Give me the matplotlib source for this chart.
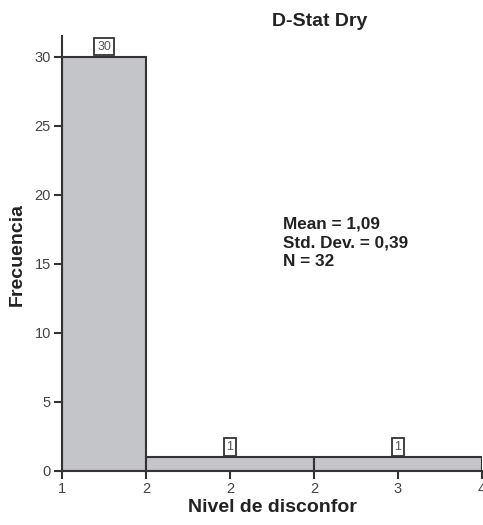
import matplotlib
matplotlib.use("Agg")
import matplotlib.pyplot as plt

plt.rcParams['font.family'] = ['Liberation Sans', 'DejaVu Sans']

# histogram data (bin edges in tick-position units, counts per bin)
bin_left = [0, 1, 3]
bin_width = [1, 2, 2]
counts = [30, 1, 1]
tick_pos = [0, 1, 2, 3, 4, 5]
tick_labels = ['1', '2', '2', '2', '3', '4']
y_ticks = [0, 5, 10, 15, 20, 25, 30]
stats_lines = ['Mean = 1,09', 'Std. Dev. = 0,39', 'N = 32']

fig = plt.figure(figsize=(4.83, 5.25), dpi=100)
ax = fig.add_axes([62 / 483, 54 / 525, 420 / 483, 435 / 525])

edge = '#333333'
ax.bar(bin_left, counts, width=bin_width, align='edge',
       color='#c4c5c9', edgecolor=edge, linewidth=1.5, zorder=2)

# count labels in little boxes above each bar
for l, w, c in zip(bin_left, bin_width, counts):
    ax.annotate(str(c), (l + w / 2, c), xytext=(0, 3), textcoords='offset points',
                ha='center', va='bottom', fontsize=9, color='#555555',
                bbox=dict(boxstyle='square,pad=0.22', fc='white', ec=edge, lw=1.3))

ax.set_xlim(0, 5)
ax.set_ylim(0, 31.5)
ax.set_xticks(tick_pos)
ax.set_xticklabels(tick_labels)
ax.set_yticks(y_ticks)

for s in ['top', 'right']:
    ax.spines[s].set_visible(False)
for s in ['left', 'bottom']:
    ax.spines[s].set_color(edge)
    ax.spines[s].set_linewidth(1.5)
ax.tick_params(axis='both', direction='out', length=6, width=1.5, color=edge,
               labelsize=10.5, labelcolor='#444444', pad=2)

fig.text(320 / 483, 1 - 21 / 525, 'D-Stat Dry', ha='center', va='center',
         fontsize=14, fontweight='bold', color='#222222')
fig.text(17 / 483, 1 - 255 / 525, 'Frecuencia', ha='center', va='center',
         rotation=90, fontsize=14, fontweight='bold', color='#222222')
fig.text(272 / 483, 1 - 507 / 525, 'Nivel de disconfor', ha='center', va='center',
         fontsize=14, fontweight='bold', color='#222222')

for i, line in enumerate(stats_lines):
    fig.text(283 / 483, 1 - (224 + 19 * i) / 525, line, ha='left', va='center',
             fontsize=12.3, fontweight='bold', color='#222222')

fig.savefig('out.png', dpi=100)
